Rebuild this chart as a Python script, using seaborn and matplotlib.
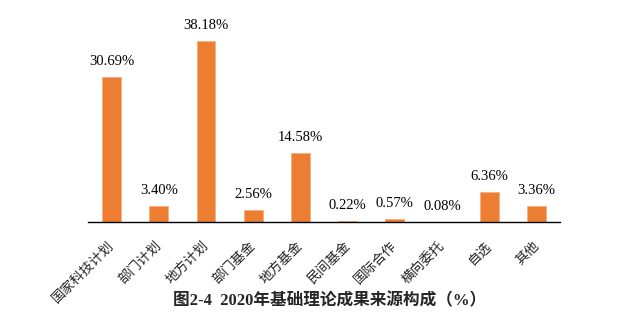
import matplotlib
matplotlib.use("Agg")
import matplotlib.pyplot as plt
import seaborn as sns
import pandas as pd

categories = ["国家科技计划", "部门计划", "地方计划", "部门基金", "地方基金",
              "民间基金", "国际合作", "横向委托", "自选", "其他"]
values = [30.69, 3.40, 38.18, 2.56, 14.58, 0.22, 0.57, 0.08, 6.36, 3.36]
labels = ["30.69%", "3.40%", "38.18%", "2.56%", "14.58%",
          "0.22%", "0.57%", "0.08%", "6.36%", "3.36%"]
title = "图2-4  2020年基础理论成果来源构成（%）"

sns.set_theme(style="white")
plt.rcParams['font.family'] = ['Liberation Serif', 'Noto Sans CJK SC', 'DejaVu Sans']

df = pd.DataFrame({"cat": categories, "val": values})

fig = plt.figure(figsize=(6.44, 3.35), dpi=100)
ax = fig.add_axes([88/644, (335-222)/335, (560-88)/644, 213/335])
sns.barplot(data=df, x="cat", y="val", color="#ED7D31", width=0.4,
            saturation=1, ax=ax, edgecolor="#F4B183", linewidth=0.6)
ax.set_ylim(0, 45)
ax.set_xlim(-0.5, len(categories) - 0.5)
for i, (v, lab) in enumerate(zip(values, labels)):
    ax.annotate(lab, (i, v), xytext=(0, 6.5), textcoords="offset points",
                ha="center", va="bottom", fontsize=10.5,
                family=['Liberation Serif'], color="black")

for s in ["left", "right", "top"]:
    ax.spines[s].set_visible(False)
ax.spines["bottom"].set_color("black")
ax.spines["bottom"].set_linewidth(1.0)
ax.set_yticks([])
ax.set_xlabel("")
ax.set_ylabel("")
ax.tick_params(axis="x", length=0, pad=15)
ax.set_xticks(range(len(categories)))
ax.set_xticklabels(categories, rotation=45, ha="right", va="center",
                   rotation_mode="anchor",
                   fontsize=9.7, family=['Noto Sans CJK SC'], color="#222222")

fig.text(330/644, (335-301)/335, title, ha="center", va="center",
         fontsize=12, fontweight="bold",
         family=['Liberation Serif', 'Noto Sans CJK SC'])

fig.savefig("out.png", dpi=100)
